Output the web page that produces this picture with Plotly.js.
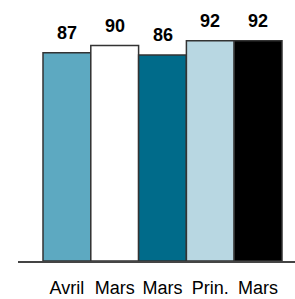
<!DOCTYPE html>
<html><head><meta charset="utf-8">
<script src="https://cdn.plot.ly/plotly-3.0.1.min.js"></script>
<style>html,body{margin:0;padding:0;background:#fff;}#chart{width:295px;height:299px;}</style>
</head><body><div id="chart"></div>
<script>
const labels = ["Avril", "Mars", "Mars", "Prin.", "Mars"];
const values = [87, 90, 86, 92, 92];
const colors = ["#5DA9C1", "#FFFFFF", "#006B8A", "#B8D7E2", "#000000"];
const positions = labels.map((_, i) => i);

const trace = {
  type: "bar",
  x: positions,
  y: values,
  width: 1,
  marker: { color: colors, line: { color: "#333333", width: 1.5 } },
  hoverinfo: "skip"
};

const annotations = values.map((v, i) => ({
  x: positions[i], y: v, xref: "x", yref: "y",
  text: String(v), showarrow: false, yanchor: "bottom", yshift: 8,
  font: { family: "Liberation Sans, Arial, sans-serif", size: 18, color: "#000" , weight: "bold"}
}));

const layout = {
  width: 295, height: 299,
  margin: { l: 18, r: 0, t: 0, b: 38 },
  paper_bgcolor: "#fff", plot_bgcolor: "#fff",
  showlegend: false,
  bargap: 0,
  xaxis: {
    range: [-1.023, 4.772], tickvals: positions, ticktext: labels,
    showgrid: false, zeroline: false, showline: true, linecolor: "#444", linewidth: 2,
    ticks: "", fixedrange: true, ticklabelstandoff: 9,
    tickfont: { family: "Liberation Sans, Arial, sans-serif", size: 18, color: "#000" }
  },
  yaxis: {
    range: [0, 109], showgrid: false, zeroline: false, showline: false,
    showticklabels: false, ticks: "", fixedrange: true
  },
  annotations: annotations
};

Plotly.newPlot("chart", [trace], layout, { displayModeBar: false, staticPlot: true });
</script></body></html>
